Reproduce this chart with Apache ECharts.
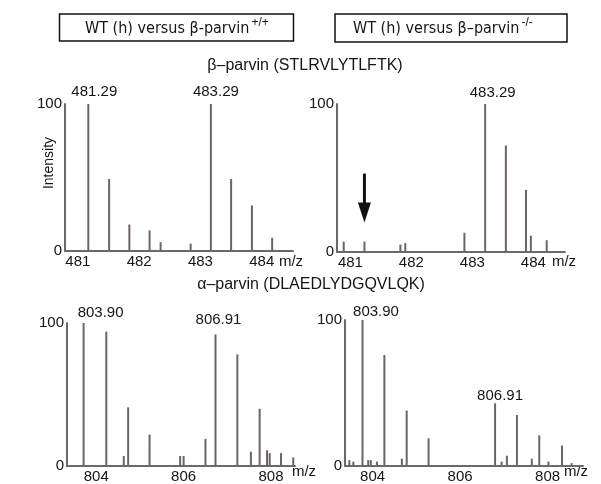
<!DOCTYPE html>
<html><head><meta charset="utf-8">
<script src="https://cdn.jsdelivr.net/npm/echarts@6/dist/echarts.min.js"></script>
<style>html,body{margin:0;padding:0;background:#fff}#c{width:601px;height:484px}</style>
</head><body><div id="c"></div>
<script>
// ---- data ----
const betaWT_mz  = [481.17, 481.51, 481.84, 482.17, 482.35, 482.84, 483.17, 483.50, 483.84, 484.17];
const betaWT_int = [100, 49, 18, 14, 6, 5, 100, 49, 31, 9];
const betaKO_mz  = [480.89, 481.23, 481.82, 481.90, 482.87, 483.21, 483.55, 483.88, 483.96, 484.22];
const betaKO_int = [7, 7, 5, 6, 13, 100, 72, 42, 11, 8];
const alphaWT_mz  = [803.71, 804.23, 804.63, 804.73, 805.22, 805.92, 806.00, 806.50, 806.73, 807.23, 807.54, 807.74, 807.91, 807.97, 808.23, 808.51];
const alphaWT_int = [100, 94, 7, 41, 22, 7, 7, 19, 92, 78, 10, 40, 11, 9, 9, 6];
const alphaKO_mz  = [803.47, 803.56, 803.77, 803.90, 803.96, 804.10, 804.27, 804.67, 804.78, 805.28, 806.80, 806.95, 807.07, 807.30, 807.64, 807.81, 808.02, 808.33, 808.55];
const alphaKO_int = [4, 3, 100, 4, 4, 3, 76, 5, 38, 19, 43, 3, 7, 35, 5, 21, 3, 14, 2];

const betaTicks  = [481, 482, 483, 484];
const alphaTicks = [804, 806, 808];
const yTicks = [0, 100];

// peak annotations: [peak index, text]
const betaWT_peaks  = [[0, '481.29'], [6, '483.29']];
const betaKO_peaks  = [[5, '483.29']];
const alphaWT_peaks = [[0, '803.90'], [8, '806.91']];
const alphaKO_peaks = [[2, '803.90'], [10, '806.91']];

const headerLeft  = ['WT (h) versus \u03b2-parvin', '+/+'];
const headerRight = ['WT (h) versus \u03b2\u2013parvin', '-/-'];
const betaTitle  = '\u03b2\u2013parvin (STLRVLYTLFTK)';
const alphaTitle = '\u03b1\u2013parvin (DLAEDLYDGQVLQK)';
const yName = 'Intensity';
const xName = 'm/z';
const arrowMark = {mz: 481.23, from: 53, to: 20};

// ---- layout / style ----
const FONT = 'Liberation Sans, Arial, sans-serif';
const HFONT = '"Liberation Sans Narrow", "Arial Narrow", "DejaVu Sans Condensed", sans-serif';
const TXT = '#151515';
const BARC = '#6e6462';
const AXC = '#6a6a6a';

const panels = [
  {mz: betaWT_mz, it: betaWT_int, peaks: betaWT_peaks, ticks: betaTicks, grid: {left: 65, top: 104, width: 228, height: 147}, min: 480.79, max: 484.51,
   lab: [[6, 5], [5, 5]]},
  {mz: betaKO_mz, it: betaKO_int, peaks: betaKO_peaks, ticks: betaTicks, grid: {left: 337, top: 104, width: 228, height: 148}, min: 480.78, max: 484.52,
   lab: [[7.5, 3.5]]},
  {mz: alphaWT_mz, it: alphaWT_int, peaks: alphaWT_peaks, ticks: alphaTicks, grid: {left: 67, top: 323, width: 228, height: 144}, min: 803.33, max: 808.55,
   lab: [[17, 2.5], [3, 7]]},
  {mz: alphaKO_mz, it: alphaKO_int, peaks: alphaKO_peaks, ticks: alphaTicks, grid: {left: 345, top: 320, width: 238, height: 148}, min: 803.37, max: 808.81,
   lab: [[13.5, 1], [5, 0]]}
];

const grids = [], xAxes = [], yAxes = [], series = [];
panels.forEach((p, i) => {
  grids.push(Object.assign({containLabel: false}, p.grid));
  xAxes.push({
    type: 'value', gridIndex: i, min: p.min, max: p.max,
    axisLine: {show: true, onZero: false, lineStyle: {color: AXC, width: 2}},
    axisTick: {show: false}, splitLine: {show: false},
    axisLabel: {customValues: p.ticks, fontSize: 15, margin: 3, color: TXT, fontFamily: FONT}
  });
  yAxes.push({
    type: 'value', gridIndex: i, min: yTicks[0], max: yTicks[1], interval: yTicks[1] - yTicks[0],
    axisLine: {show: true, lineStyle: {color: AXC, width: 2}},
    axisTick: {show: false},
    splitLine: {show: false},
    axisLabel: {fontSize: 15, margin: 3, color: TXT, fontFamily: FONT}
  });
  const data = p.mz.map((m, k) => ({value: [m, p.it[k]]}));
  p.peaks.forEach((pk, j) => {
    data[pk[0]].label = {show: true, formatter: pk[1], position: 'top',
      offset: [p.lab[j][0], 0], distance: p.lab[j][1], fontSize: 15, color: TXT, fontFamily: FONT};
  });
  series.push({type: 'bar', xAxisIndex: i, yAxisIndex: i, data: data, barWidth: 2,
    itemStyle: {color: BARC}, silent: true});
});

const chart = echarts.init(document.getElementById('c'), null, {renderer: 'canvas'});
chart.setOption({animation: false, backgroundColor: '#fff', grid: grids, xAxis: xAxes, yAxis: yAxes, series: series});

const mctx = document.createElement('canvas').getContext('2d');
function header(left, parts) {
  mctx.font = '16px ' + HFONT;
  const w = mctx.measureText(parts[0]).width;
  return [
    {type: 'text', x: left, y: 28.5, style: {text: parts[0], fontSize: 16, fontFamily: HFONT, fill: TXT, align: 'left', verticalAlign: 'middle'}},
    {type: 'text', x: left + w + 2, y: 23, style: {text: parts[1], fontSize: 12, fontFamily: FONT, fill: TXT, align: 'left', verticalAlign: 'middle'}}
  ];
}
const tStyle = (t, fs) => ({text: t, fontSize: fs, fontFamily: FONT, fill: TXT, align: 'center', verticalAlign: 'middle'});
const a0 = chart.convertToPixel({gridIndex: 1}, [arrowMark.mz, arrowMark.from]);
const a1 = chart.convertToPixel({gridIndex: 1}, [arrowMark.mz, arrowMark.to]);

chart.setOption({graphic: [
  {type: 'rect', shape: {x: 59.5, y: 14, width: 234, height: 27}, style: {fill: '#fff', stroke: '#111', lineWidth: 1.5}},
  {type: 'rect', shape: {x: 335, y: 14, width: 232, height: 28}, style: {fill: '#fff', stroke: '#111', lineWidth: 1.5}},
  ...header(85, headerLeft),
  ...header(353, headerRight),
  {type: 'text', x: 305, y: 66, style: tStyle(betaTitle, 16)},
  {type: 'text', x: 311, y: 285, style: tStyle(alphaTitle, 16)},
  {type: 'text', x: 49, y: 163, rotation: Math.PI / 2, style: tStyle(yName, 14)},
  {type: 'text', x: 291, y: 261.5, style: tStyle(xName, 15)},
  {type: 'text', x: 564, y: 262, style: tStyle(xName, 15)},
  {type: 'text', x: 304, y: 472, style: tStyle(xName, 15)},
  {type: 'text', x: 576, y: 472, style: tStyle(xName, 15)},
  {type: 'line', shape: {x1: a0[0], y1: a0[1], x2: a1[0], y2: a1[1] - 18}, style: {stroke: '#111', lineWidth: 3}},
  {type: 'polygon', shape: {points: [[a1[0] - 6.5, a1[1] - 20], [a1[0] + 6.5, a1[1] - 20], [a1[0], a1[1]]]}, style: {fill: '#111'}}
]});
</script></body></html>
